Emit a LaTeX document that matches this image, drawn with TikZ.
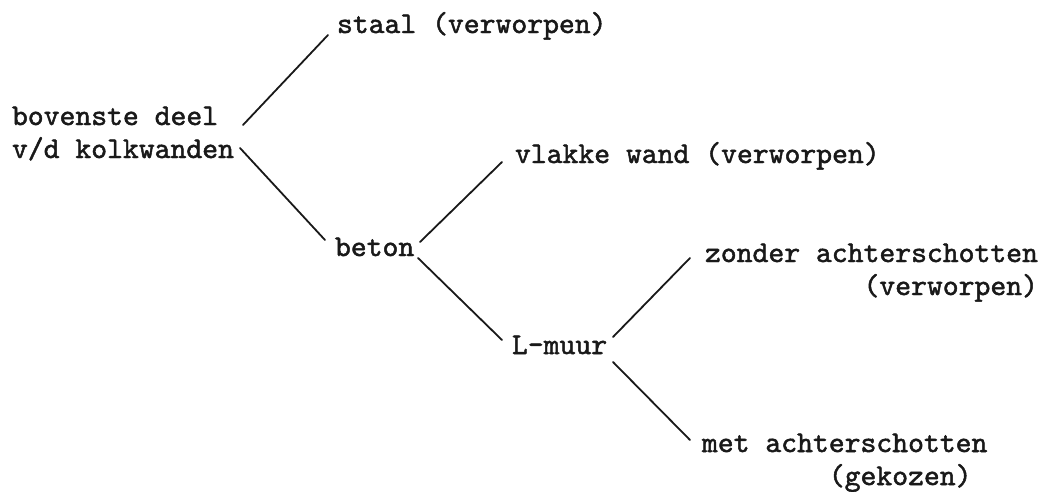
\documentclass[tikz,border=0pt]{standalone}
\usepackage{fontspec}
\usetikzlibrary{calc}
% typewriter face, slightly emboldened
\newfontfamily\typew[Extension=.otf, UprightFeatures={FakeBold=1.6}]{lmmono10-regular}
% two-line label whose baseline is that of its first line
\newcommand{\twolines}[2]{\vtop{\hbox{\strut #1}\hbox{\strut #2}}}
\tikzset{
  lbl/.style={anchor=base west, inner sep=0pt, outer sep=0pt,
    font=\typew\fontsize{30.2}{33}\selectfont, text=black!90},
  branch/.style={line width=1.8pt, draw=black!90, line cap=round}
}
\begin{document}
\begin{tikzpicture}[x=1pt,y=-1pt]
\useasboundingbox (0,0) rectangle (1050,491);
\begin{scope}[every node/.style={lbl}]
  \node (bov)    at (12,125)  {\twolines{bovenste deel}{v/d kolkwanden}};
  \node (staal)  at (337,33)  {staal (verworpen)};
  \node (beton)  at (335,256) {beton};
  \node (vlak)   at (515,163) {vlakke wand (verworpen)};
  \node (lmuur)  at (512,354) {L-muur};
  \node (zonder) at (705,262) {\twolines{zonder achterschotten}{\phantom{0123456789}(verworpen)}};
  \node (met)    at (702,452) {\twolines{met achterschotten}{\phantom{01234567}(gekozen)}};
\end{scope}
\begin{scope}[branch]
  \draw ($(bov.base west)+(231,0)$)    -- ($(staal.base west)+(-9,2)$);
  \draw ($(bov.base west)+(228,23)$)   -- ($(beton.base west)+(-10,-16)$);
  \draw ($(beton.base west)+(85,-14)$) -- ($(vlak.base west)+(-13,-1)$);
  \draw ($(beton.base west)+(83,2)$)   -- ($(lmuur.base west)+(-10,-14)$);
  \draw ($(lmuur.base west)+(101,-17)$) -- ($(zonder.base west)+(-15,-4)$);
  \draw ($(lmuur.base west)+(101,8)$)  -- ($(met.base west)+(-12,-12)$);
\end{scope}
\end{tikzpicture}
\end{document}
